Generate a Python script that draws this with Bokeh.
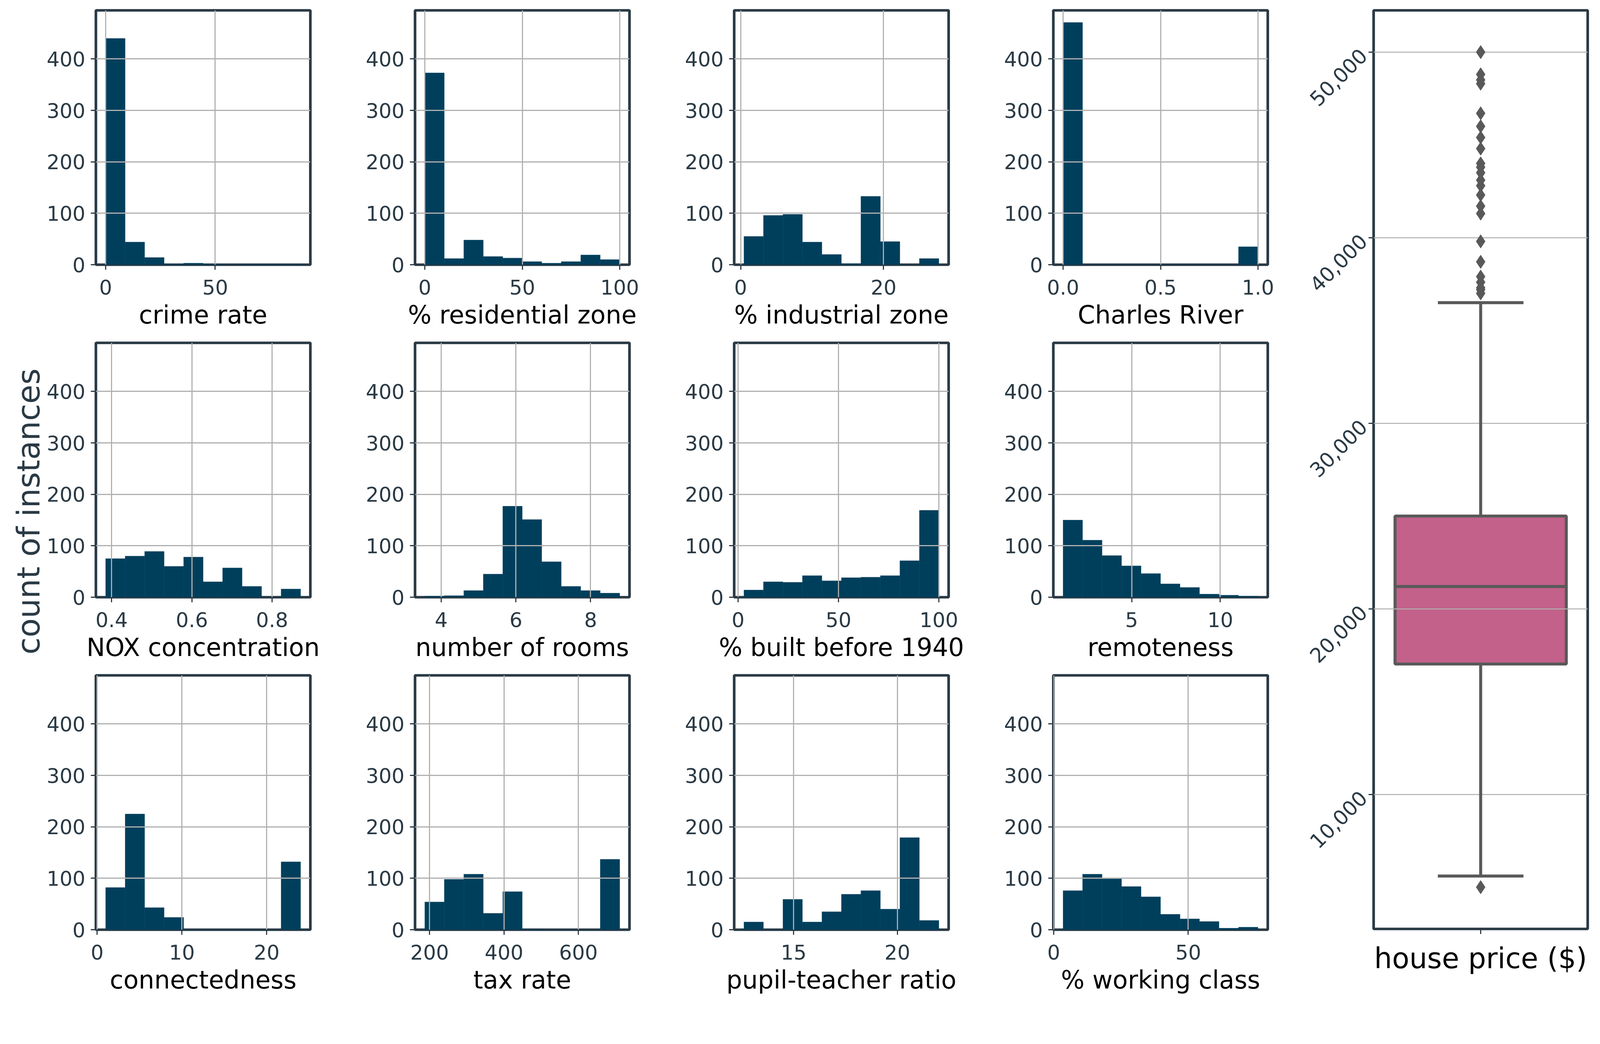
import numpy as np
from math import pi
from bokeh.plotting import figure
from bokeh.layouts import row, column
from bokeh.models import Range1d, FixedTicker, NumeralTickFormatter, Label
from bokeh.embed import file_html
from bokeh.resources import INLINE

# ---------------- data ----------------
hist_titles = ["crime rate", "% residential zone", "% industrial zone", "Charles River",
               "NOX concentration", "number of rooms", "% built before 1940", "remoteness",
               "connectedness", "tax rate", "pupil-teacher ratio", "% working class"]

# data minimum / maximum of each variable (histogram spans 10 equal bins between them)
data_min = [0.006, 0.0, 0.46, 0.0, 0.385, 3.561, 2.9, 1.13, 1.0, 187.0, 12.6, 3.46]
data_max = [88.98, 100.0, 27.74, 1.0, 0.871, 8.78, 100.0, 12.13, 24.0, 711.0, 22.0, 75.94]

crime_counts = [440, 44, 14, 1, 3, 1, 0, 1, 1, 1]
resid_counts = [373, 12, 48, 16, 13, 6, 3, 6, 19, 10]
indus_counts = [55, 96, 98, 44, 20, 2, 133, 45, 0, 12]
river_counts = [471, 0, 0, 0, 0, 0, 0, 0, 0, 35]
nox_counts = [75, 80, 89, 60, 78, 30, 57, 21, 0, 16]
rooms_counts = [2, 3, 13, 45, 177, 151, 69, 21, 13, 8]
age_counts = [14, 30, 29, 42, 32, 38, 39, 42, 71, 169]
remote_counts = [150, 111, 81, 61, 46, 26, 19, 6, 4, 2]
connect_counts = [82, 225, 43, 24, 0, 0, 0, 0, 0, 132]
tax_counts = [54, 98, 108, 32, 74, 1, 0, 0, 0, 137]
ptratio_counts = [15, 0, 59, 15, 35, 69, 76, 40, 179, 18]
working_counts = [76, 108, 99, 84, 64, 30, 21, 16, 3, 5]

all_counts = [crime_counts, resid_counts, indus_counts, river_counts,
              nox_counts, rooms_counts, age_counts, remote_counts,
              connect_counts, tax_counts, ptratio_counts, working_counts]

x_ticks = [[0, 50], [0, 50, 100], [0, 20], [0.0, 0.5, 1.0],
           [0.4, 0.6, 0.8], [4, 6, 8], [0, 50, 100], [5, 10],
           [0, 10, 20], [200, 400, 600], [15, 20], [0, 50]]
x_tick_labels = [["0", "50"], ["0", "50", "100"], ["0", "20"], ["0.0", "0.5", "1.0"],
                 ["0.4", "0.6", "0.8"], ["4", "6", "8"], ["0", "50", "100"], ["5", "10"],
                 ["0", "10", "20"], ["200", "400", "600"], ["15", "20"], ["0", "50"]]
y_ticks = [0, 100, 200, 300, 400]

# house price box plot (US $)
price_q1 = 17025
price_median = 21200
price_q3 = 25000
price_whisker_low = 5600
price_whisker_high = 36500
price_outliers = [5000, 37000, 37200, 37300, 37600, 37900, 38700, 39800, 41300, 41700,
                  42300, 42800, 43100, 43500, 43800, 44000, 44800, 45400, 46000, 46700,
                  48300, 48500, 48800, 50000]
price_ticks = [10000, 20000, 30000, 40000, 50000]

# ---------------- style ----------------
FONT = "DejaVu Sans"
SPINE = "#2a3a45"
BAR = "#003f5c"
GRID = "#b0b0b0"
BOX_FILL = "#c3618a"
BOX_LINE = "#595959"

S = 0.962  # css px per reference px


def px(v):
    return f"{v * S:.1f}px"


FIRST_TOP_B, TOP_B, BOT_B, LEFT_B = 26, 14, 186, 130
FRAME_W, FRAME_H = 549, 651
RIGHT_B = 138
RIGHT_B_LAST = 60


def style_axis(ax):
    ax.axis_line_color = None
    ax.major_tick_line_color = SPINE
    ax.major_tick_line_width = 3 * S
    ax.major_tick_out = round(14 * S)
    ax.major_tick_in = 0
    ax.minor_tick_line_color = None
    ax.major_label_text_font = FONT
    ax.major_label_text_font_size = px(54)
    ax.major_label_text_color = SPINE


ymax = max(max(c) for c in all_counts) * 1.05


def hist_fig(i, right_border, top_border):
    lo, hi = data_min[i], data_max[i]
    pad = 0.05 * (hi - lo)
    p = figure(frame_width=FRAME_W, frame_height=FRAME_H, title=None,
               x_range=Range1d(lo - pad, hi + pad), y_range=Range1d(0, ymax),
               output_backend="svg", toolbar_location=None,
               min_border_left=LEFT_B, min_border_right=right_border,
               min_border_top=top_border, min_border_bottom=BOT_B)
    edges = np.linspace(lo, hi, len(all_counts[i]) + 1)
    p.quad(left=edges[:-1], right=edges[1:], bottom=0, top=all_counts[i],
           fill_color=BAR, line_color=BAR, line_width=0.5, level="image")
    xt = FixedTicker(ticks=x_ticks[i])
    yt = FixedTicker(ticks=y_ticks)
    p.xaxis.ticker = xt
    p.xgrid.ticker = xt
    p.yaxis.ticker = yt
    p.ygrid.ticker = yt
    p.xaxis.major_label_overrides = {t: s for t, s in zip(x_ticks[i], x_tick_labels[i])}
    for ax in (p.xaxis[0], p.yaxis[0]):
        style_axis(ax)
    p.xaxis.major_label_standoff = 25
    p.yaxis.major_label_standoff = 14
    p.xaxis.axis_label = hist_titles[i]
    p.xaxis.axis_label_text_font = FONT
    p.xaxis.axis_label_text_font_size = px(66)
    p.xaxis.axis_label_text_font_style = "normal"
    p.xaxis.axis_label_text_color = "black"
    p.xaxis.axis_label_standoff = 12
    p.grid.grid_line_color = GRID
    p.grid.grid_line_width = 3 * S
    p.outline_line_color = SPINE
    p.outline_line_width = 7 * S
    p.outline_line_alpha = 1.0
    p.background_fill_color = "white"
    p.border_fill_color = "white"
    return p


rows = []
for r in range(3):
    figs = []
    for c in range(4):
        i = r * 4 + c
        figs.append(hist_fig(i, RIGHT_B if c < 3 else RIGHT_B_LAST,
                             FIRST_TOP_B if r == 0 else TOP_B))
    rows.append(row(*figs, spacing=0))
grid_col = column(*rows, spacing=0)

TOTAL_H = FIRST_TOP_B + 2 * TOP_B + 3 * (FRAME_H + BOT_B)
LAB_W = 115
# left label
lab = figure(frame_width=LAB_W, frame_height=TOTAL_H, title=None,
             x_range=Range1d(0, 1), y_range=Range1d(0, 1),
             output_backend="svg", toolbar_location=None, min_border=0,
             x_axis_location=None, y_axis_location=None)
lab.grid.visible = False
lab.outline_line_color = None
lab.add_layout(Label(x=0.635, y=0.5, text="count of instances", angle=pi / 2,
                     text_align="center", text_baseline="middle",
                     text_font=FONT, text_font_size=px(83), text_color=SPINE))

# box plot
vals = price_outliers + [price_whisker_low, price_whisker_high]
plo, phi = min(vals), max(vals)
ppad = 0.05 * (phi - plo)
BOX_TOP_B, BOX_FRAME_H = 26, 2351
BOX_BOT_B = TOTAL_H - BOX_TOP_B - BOX_FRAME_H
bx = figure(frame_width=548, frame_height=BOX_FRAME_H, title=None,
            x_range=Range1d(-0.5, 0.5), y_range=Range1d(plo - ppad, phi + ppad),
            output_backend="svg", toolbar_location=None,
            min_border_left=211, min_border_right=10,
            min_border_top=BOX_TOP_B, min_border_bottom=BOX_BOT_B)
box_w = 0.8
cap_w = 0.4
LW = 8 * S
bx.quad(left=-box_w / 2, right=box_w / 2, bottom=price_q1, top=price_q3,
        fill_color=BOX_FILL, line_color=BOX_LINE, line_width=LW, level="image")
bx.segment(x0=[-box_w / 2], x1=[box_w / 2], y0=[price_median], y1=[price_median],
           line_color=BOX_LINE, line_width=LW)
bx.segment(x0=[0, 0], x1=[0, 0], y0=[price_q3, price_q1],
           y1=[price_whisker_high, price_whisker_low], line_color=BOX_LINE, line_width=LW)
bx.segment(x0=[-cap_w / 2, -cap_w / 2], x1=[cap_w / 2, cap_w / 2],
           y0=[price_whisker_high, price_whisker_low], y1=[price_whisker_high, price_whisker_low],
           line_color=BOX_LINE, line_width=LW)
bx.scatter(x=[0] * len(price_outliers), y=price_outliers, marker="diamond", size=36 * S,
           fill_color=BOX_LINE, line_color=BOX_LINE)
pt = FixedTicker(ticks=price_ticks)
bx.yaxis.ticker = pt
bx.ygrid.ticker = pt
bx.yaxis.formatter = NumeralTickFormatter(format="0,0")
bx.yaxis.major_label_orientation = pi / 4
bx.xaxis.ticker = FixedTicker(ticks=[0])
bx.xaxis.major_label_overrides = {0: "house price ($)"}
for ax in (bx.xaxis[0], bx.yaxis[0]):
    style_axis(ax)
bx.xaxis.major_label_text_font_size = px(75)
bx.xaxis.major_label_text_color = "black"
bx.xaxis.major_label_standoff = 20
bx.yaxis.major_label_standoff = 13
bx.xgrid.visible = False
bx.ygrid.grid_line_color = GRID
bx.ygrid.grid_line_width = 2.5 * S
bx.outline_line_color = SPINE
bx.outline_line_width = 7 * S
bx.outline_line_alpha = 1.0

layout = row(lab, grid_col, bx, spacing=0)
open("out.html", "w").write(file_html(layout, INLINE))
